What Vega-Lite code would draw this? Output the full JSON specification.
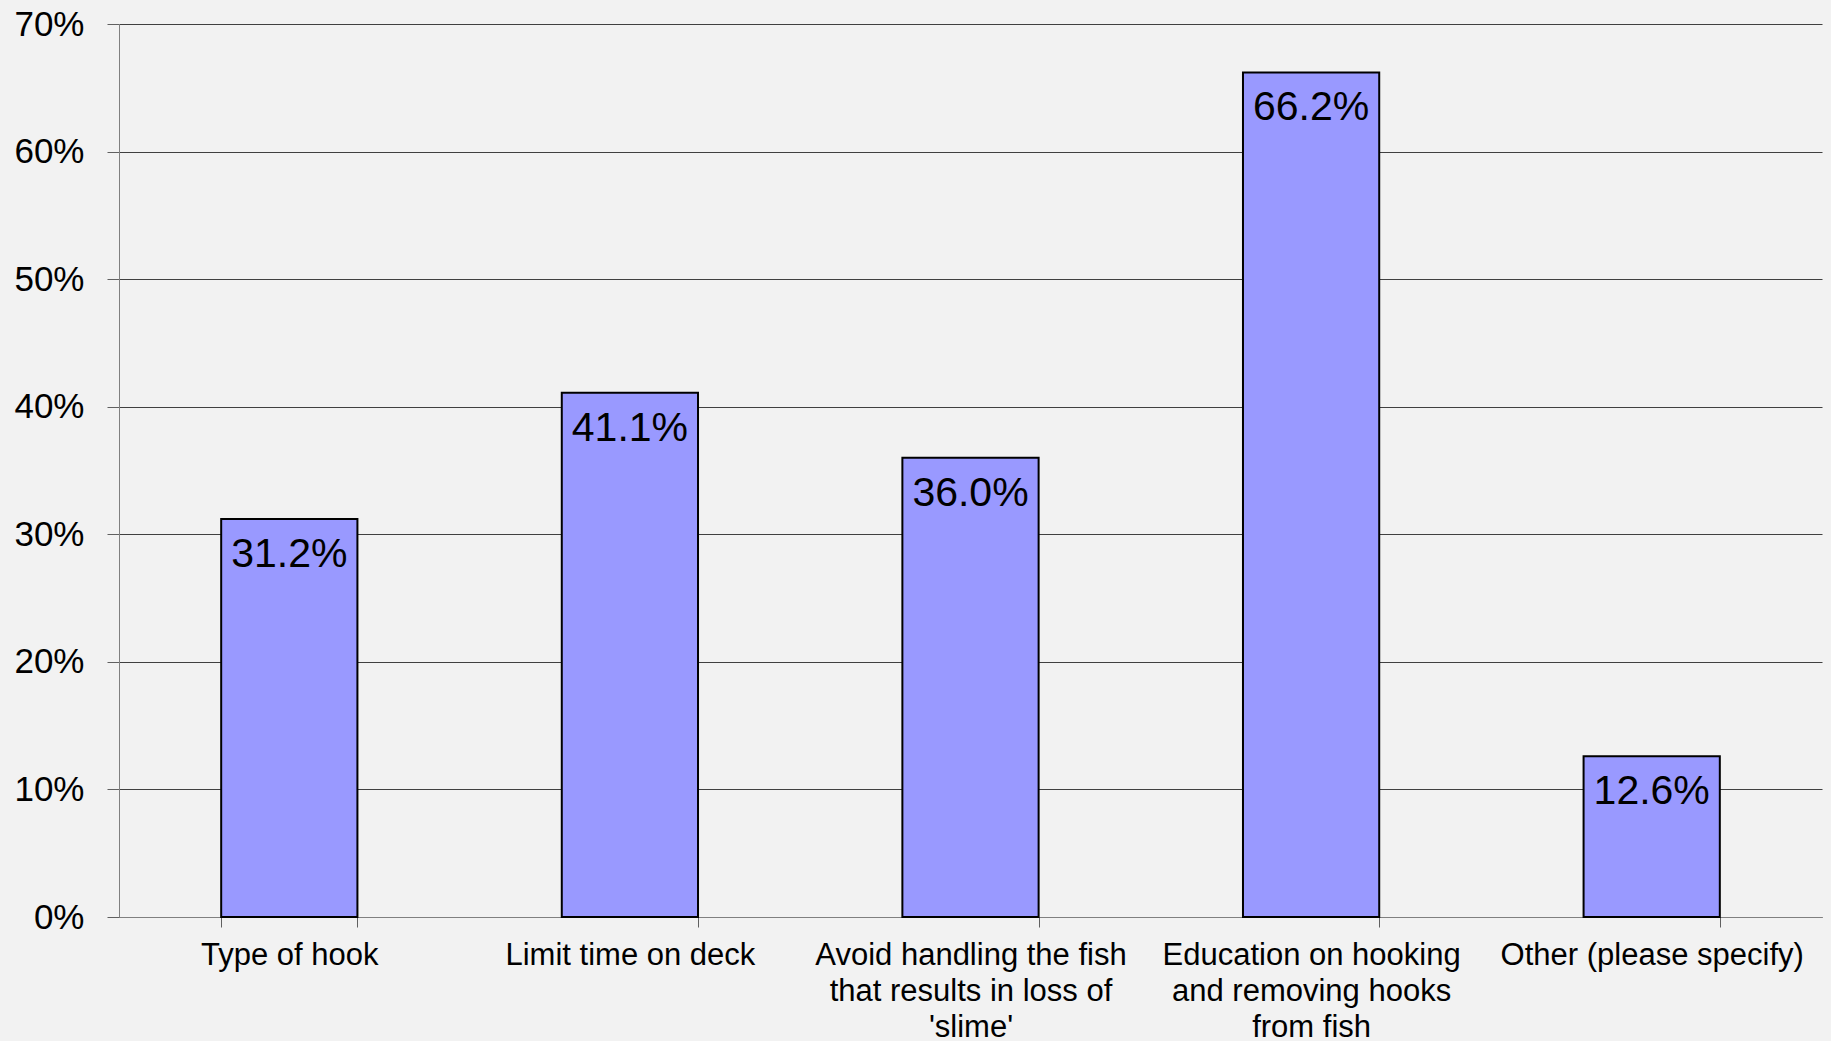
{
  "$schema": "https://vega.github.io/schema/vega-lite/v6.json",
  "autosize": {"type": "none"},
  "padding": {"left": 119, "top": 24, "right": 9, "bottom": 124},
  "width": 1703,
  "height": 893,
  "background": "#f2f2f2",
  "config": {
    "view": {"stroke": null, "fill": "#f2f2f2"},
    "font": "Liberation Sans"
  },
  "data": {
    "values": [
      {"category": "Type of hook", "value": 0.312},
      {"category": "Limit time on deck", "value": 0.411},
      {"category": "Avoid handling the fish that results in loss of 'slime'", "value": 0.360},
      {"category": "Education on hooking and removing hooks from fish", "value": 0.662},
      {"category": "Other (please specify)", "value": 0.126}
    ]
  },
  "encoding": {
    "x": {
      "field": "category",
      "type": "nominal",
      "sort": null,
      "scale": {"paddingInner": 0.6, "paddingOuter": 0.3},
      "axis": {
        "title": null,
        "labelAngle": 0,
        "labelFont": "Liberation Sans",
        "labelFontSize": 31,
        "labelColor": "#000000",
        "labelLineHeight": 36,
        "labelLimit": 0,
        "labelPadding": 13,
        "tickBand": "extent",
        "tickSize": 10,
        "tickColor": "#606060",
        "domainColor": "#808080",
        "grid": false,
        "labelExpr": "datum.value == 'Avoid handling the fish that results in loss of \\'slime\\'' ? ['Avoid handling the fish', 'that results in loss of', \"'slime'\"] : datum.value == 'Education on hooking and removing hooks from fish' ? ['Education on hooking', 'and removing hooks', 'from fish'] : datum.value"
      }
    },
    "y": {
      "field": "value",
      "type": "quantitative",
      "scale": {"domain": [0, 0.7], "nice": false},
      "axis": {
        "title": null,
        "values": [0, 0.1, 0.2, 0.3, 0.4, 0.5, 0.6, 0.7],
        "format": ".0%",
        "labelFont": "Liberation Sans",
        "labelFontSize": 35,
        "labelColor": "#000000",
        "labelPadding": 23,
        "tickSize": 12,
        "tickColor": "#606060",
        "domainColor": "#808080",
        "grid": true,
        "gridColor": "#404040",
        "gridWidth": 1
      }
    }
  },
  "layer": [
    {
      "mark": {"type": "bar", "fill": "#9999ff", "stroke": "#000000", "strokeWidth": 2}
    },
    {
      "mark": {"type": "text", "baseline": "alphabetic", "align": "center", "dy": 48, "fontSize": 41, "font": "Liberation Sans", "color": "#000000"},
      "encoding": {
        "text": {"field": "value", "type": "quantitative", "format": ".1%"}
      }
    }
  ]
}
